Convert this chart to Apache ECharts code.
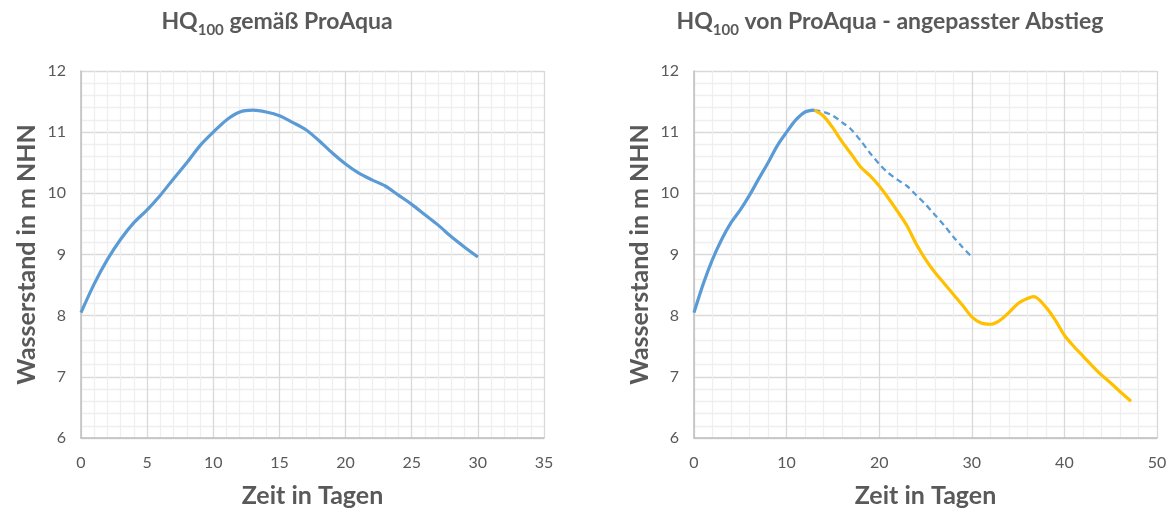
<!DOCTYPE html>
<html>
<head>
<meta charset="utf-8">
<script src="https://cdn.jsdelivr.net/npm/echarts@6/dist/echarts.min.js"></script>
<style>
  html, body { margin: 0; padding: 0; background: #fff; }
  #chart { width: 1174px; height: 513px; }
</style>
</head>
<body>
<div id="chart"></div>
<script>
// Original HQ100 hydrograph (ProAqua): day -> water level in m NHN
const originalDays   = [0, 1, 2, 3, 4, 5, 6, 7, 8, 9, 10, 11, 12, 13,
                        14, 15, 16, 17, 18, 19, 20, 21, 22, 23, 24, 25, 26, 27, 28, 29, 30];
const originalLevels = [8.05, 8.52, 8.92, 9.25, 9.52, 9.73, 9.97, 10.24, 10.5, 10.78, 11.0, 11.2, 11.33, 11.36,
                        11.33, 11.27, 11.16, 11.04, 10.86, 10.66, 10.48, 10.33, 10.22, 10.12, 9.97, 9.82, 9.65, 9.48, 9.29, 9.12, 8.96];

// Day of the peak, where the adjusted recession starts
const peakDay = 13;

// Adjusted recession (angepasster Abstieg)
const adjustedDays   = [13, 14, 15, 16, 17, 18, 19, 20, 21, 22, 23, 24, 25, 26, 27, 28, 29, 30,
                        31, 32, 33, 34, 35, 36, 36.7, 38, 39, 40, 41, 42, 43, 44, 45, 46, 47.2];
const adjustedLevels = [11.36, 11.26, 11.07, 10.84, 10.64, 10.43, 10.29, 10.12, 9.92, 9.7, 9.47, 9.17, 8.92, 8.71, 8.53, 8.35, 8.17, 7.98,
                        7.88, 7.86, 7.92, 8.05, 8.2, 8.28, 8.31, 8.14, 7.93, 7.68, 7.5, 7.34, 7.18, 7.03, 6.9, 6.76, 6.6];

// Axis settings
const yMin = 6, yMax = 12, yStep = 1;
const leftXMax = 35, leftXStep = 5;
const rightXMax = 50, rightXStep = 10;

const titleLeft  = ['HQ', '100', ' gemäß ProAqua'];
const titleRight = ['HQ', '100', ' von ProAqua - angepasster Abstieg'];
const yName = 'Wasserstand in m NHN';
const xName = 'Zeit in Tagen';

const FONT = 'Lato, "Liberation Sans", sans-serif';
const TEXT = '#595959';
const BLUE = '#5b9bd5';
const GOLD = '#ffc000';

const pairs = (xs, ys) => xs.map((x, i) => [x, ys[i]]);
const allOriginal = pairs(originalDays, originalLevels);
const risingPart  = allOriginal.filter(p => p[0] <= peakDay);
const fallingPart = allOriginal.filter(p => p[0] >= peakDay);
const adjusted    = pairs(adjustedDays, adjustedLevels);

function xAxis(gridIndex, max, step) {
  return {
    type: 'value', gridIndex, min: 0, max, interval: step,
    name: xName, nameLocation: 'middle', nameGap: 45,
    nameTextStyle: { fontFamily: FONT, fontSize: 25, fontWeight: 'bold', color: TEXT },
    axisLine: { show: true, lineStyle: { color: '#bfbfbf', width: 1.5 } },
    axisTick: { show: false },
    axisLabel: { fontFamily: FONT, fontSize: 16, color: TEXT, margin: 17 },
    splitLine: { show: true, lineStyle: { color: '#d9d9d9', width: 1.3 } },
    minorTick: { show: false, splitNumber: 5 },
    minorSplitLine: { show: true, lineStyle: { color: '#efefef', width: 1.3 } }
  };
}
function yAxis(gridIndex) {
  return {
    type: 'value', gridIndex, min: yMin, max: yMax, interval: yStep,
    name: yName, nameLocation: 'middle', nameGap: 42, nameRotate: 90,
    nameTextStyle: { fontFamily: FONT, fontSize: 25, fontWeight: 'bold', color: TEXT },
    axisLine: { show: true, lineStyle: { color: '#bfbfbf', width: 1.5 } },
    axisTick: { show: false },
    axisLabel: { fontFamily: FONT, fontSize: 16, color: TEXT, margin: 15 },
    splitLine: { show: true, lineStyle: { color: '#d9d9d9', width: 1.3 } },
    minorTick: { show: false, splitNumber: 5 },
    minorSplitLine: { show: true, lineStyle: { color: '#efefef', width: 1.3 } }
  };
}
function titleText(parts, x) {
  return {
    type: 'text', x, y: 22,
    style: {
      text: '{a|' + parts[0] + '}{s|' + parts[1] + '}{a|' + parts[2] + '}',
      align: 'center', verticalAlign: 'middle',
      rich: {
        a: { fontFamily: FONT, fontSize: 23, fontWeight: 'bold', fill: TEXT, lineHeight: 32 },
        s: { fontFamily: FONT, fontSize: 15, fontWeight: 'bold', fill: TEXT, lineHeight: 12, verticalAlign: 'bottom' }
      }
    }
  };
}

const chart = echarts.init(document.getElementById('chart'), null, { renderer: 'canvas' });
chart.setOption({
  animation: false,
  backgroundColor: '#ffffff',
  graphic: [titleText(titleLeft, 277), titleText(titleRight, 890)],
  grid: [
    { left: 81, right: 630, top: 71, bottom: 73 },
    { left: 694, right: 17, top: 71, bottom: 73 }
  ],
  xAxis: [xAxis(0, leftXMax, leftXStep), xAxis(1, rightXMax, rightXStep)],
  yAxis: [yAxis(0), yAxis(1)],
  series: [
    { type: 'line', xAxisIndex: 0, yAxisIndex: 0, data: allOriginal, smooth: 0.3,
      showSymbol: false, lineStyle: { color: BLUE, width: 3.2 }, z: 3 },
    { type: 'line', xAxisIndex: 1, yAxisIndex: 1, data: fallingPart, smooth: 0.3,
      showSymbol: false, lineStyle: { color: BLUE, width: 2.3, type: [6, 4] }, z: 2 },
    { type: 'line', xAxisIndex: 1, yAxisIndex: 1, data: adjusted, smooth: 0.3,
      showSymbol: false, lineStyle: { color: GOLD, width: 3.2 }, z: 3 },
    { type: 'line', xAxisIndex: 1, yAxisIndex: 1, data: risingPart, smooth: 0.3,
      showSymbol: false, lineStyle: { color: BLUE, width: 3.2 }, z: 4 }
  ]
});
</script>
</body>
</html>
